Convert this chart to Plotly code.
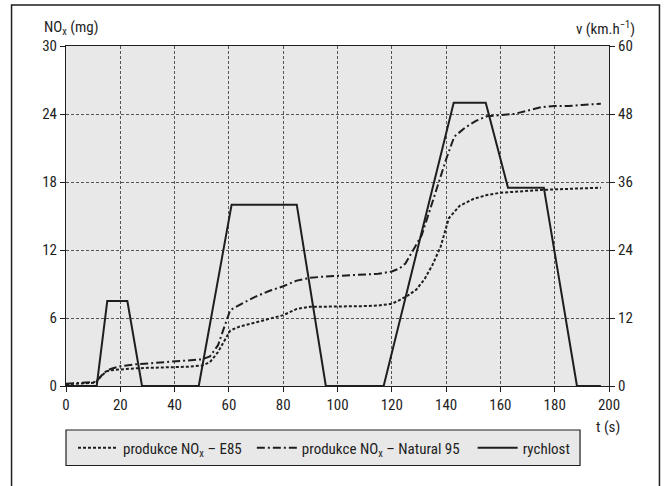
import plotly.graph_objects as go

# ---- data ----
t_speed = [0, 11.3, 15.2, 22.6, 28.0, 48.9, 61.0, 85.0, 95.7, 117.0, 142.8, 154.6, 162.8, 176.0, 188.2, 197]
speed = [0, 0, 15, 15, 0, 0, 32, 32, 0, 0, 50, 50, 35, 35, 0, 0]

t_e85 = [0, 5, 11, 13, 15, 17, 20, 25, 30, 35, 40, 45, 50, 53, 56, 58, 60.5, 64, 70, 75, 80, 85, 90, 95,
         100, 105, 110, 115, 120, 123, 126, 129, 132, 135, 138, 141, 145, 150, 155, 160, 165, 170, 175,
         180, 185, 190, 197]
nox_e85 = [0.15, 0.2, 0.3, 0.9, 1.3, 1.4, 1.47, 1.55, 1.6, 1.63, 1.65, 1.7, 1.8, 2.1, 3.0, 3.9, 4.9, 5.25,
           5.6, 5.9, 6.25, 6.8, 7.0, 7.0, 7.0, 7.0, 7.05, 7.1, 7.25, 7.6, 8.0, 8.5, 9.4, 10.7, 12.3, 14.8,
           15.9, 16.5, 16.85, 17.05, 17.15, 17.25, 17.3, 17.35, 17.4, 17.45, 17.5]

t_n95 = [0, 5, 11, 13, 15, 17, 20, 25, 30, 35, 40, 45, 50, 53, 56, 58, 60.5, 65, 70, 75, 80, 85, 90, 95,
         100, 105, 110, 115, 120, 123, 125, 128, 131, 134, 137, 140, 143, 147, 151, 155, 160, 165, 170,
         175, 180, 185, 190, 197]
nox_n95 = [0.2, 0.25, 0.35, 0.9, 1.35, 1.55, 1.75, 1.9, 2.0, 2.1, 2.2, 2.25, 2.35, 2.6, 3.6, 5.0, 6.7, 7.3,
           7.9, 8.4, 8.8, 9.3, 9.55, 9.65, 9.7, 9.75, 9.8, 9.9, 10.1, 10.4, 10.8, 12.0, 13.3, 15.5, 17.8,
           20.0, 22.0, 22.8, 23.4, 23.8, 23.9, 24.0, 24.3, 24.6, 24.7, 24.7, 24.8, 24.9]

x_ticks = list(range(0, 201, 20))
y_left_ticks = [0, 6, 12, 18, 24, 30]
y_right_ticks = [0, 12, 24, 36, 48, 60]

name_e85 = "produkce NO<sub>x</sub> – E85"
name_n95 = "produkce NO<sub>x</sub> – Natural 95"
name_speed = "rychlost"

FONT = "Roboto Condensed, Liberation Sans, sans-serif"
INK = "#1e1e1e"
W, H = 664, 486
L, R, T, B = 66, 609.5, 46, 386
pw, ph = R - L, B - T


def px(x):
    return (x - L) / pw


def py(y):
    return (B - y) / ph


fig = go.Figure()
fig.add_trace(go.Scatter(x=t_e85, y=nox_e85, mode="lines", name=name_e85,
                         line=dict(color=INK, width=2, dash="3px,2px"), legend="legend"))
fig.add_trace(go.Scatter(x=t_n95, y=nox_n95, mode="lines", name=name_n95,
                         line=dict(color=INK, width=2, dash="8px,3px,2px,3px"), legend="legend2"))
fig.add_trace(go.Scatter(x=t_speed, y=speed, mode="lines", name=name_speed, yaxis="y2",
                         line=dict(color=INK, width=2), legend="legend3"))

grid = dict(showgrid=True, gridcolor="#555555", gridwidth=1, griddash="3px,2px")
axfont = dict(family=FONT, size=15, color=INK)

fig.update_layout(
    width=W, height=H,
    margin=dict(l=L, r=W - R, t=T, b=H - B, autoexpand=False),
    paper_bgcolor="white",
    plot_bgcolor="#e8e8e8",
    font=axfont,
    xaxis=dict(range=[0, 200], tickvals=x_ticks, ticks="outside", ticklen=5, tickcolor=INK,
               showline=True, linecolor=INK, linewidth=1, mirror=True, zeroline=False,
               tickfont=axfont, **grid),
    yaxis=dict(range=[0, 30], tickvals=y_left_ticks, ticks="outside", ticklen=5, tickcolor=INK,
               showline=True, linecolor=INK, linewidth=1, zeroline=False, tickfont=axfont, **grid),
    yaxis2=dict(range=[0, 60], tickvals=y_right_ticks, overlaying="y", side="right",
                ticks="outside", ticklen=5, tickcolor=INK, showline=True, linecolor=INK, linewidth=1,
                showgrid=False, zeroline=False, tickfont=axfont),
    showlegend=True,
)

leg_common = dict(orientation="h", yanchor="middle", y=py(448), xanchor="left",
                  bgcolor="rgba(0,0,0,0)", borderwidth=0, font=axfont, itemwidth=40)
fig.update_layout(
    legend=dict(x=px(73), **leg_common),
    legend2=dict(x=px(252), **leg_common),
    legend3=dict(x=px(473), **leg_common),
)

fig.update_layout(shapes=[
    dict(type="rect", xref="paper", yref="paper", x0=px(11.5), x1=px(660), y0=py(520), y1=py(5),
         line=dict(color=INK, width=1.5), fillcolor="rgba(0,0,0,0)", layer="below"),
    dict(type="rect", xref="paper", yref="paper", x0=px(66), x1=px(580.5), y0=py(465.5), y1=py(430),
         line=dict(color=INK, width=1.2), fillcolor="#e8e8e8", layer="below"),
])

fig.update_layout(annotations=[
    dict(text="NO<sub>x</sub> (mg)", xref="paper", yref="paper", x=px(42), y=py(28),
         xanchor="left", yanchor="middle", showarrow=False, font=axfont),
    dict(text="v (km.h<sup>−1</sup>)", xref="paper", yref="paper", x=px(638), y=py(28),
         xanchor="right", yanchor="middle", showarrow=False, font=axfont),
    dict(text="t (s)", xref="paper", yref="paper", x=px(608), y=py(427),
         xanchor="center", yanchor="middle", showarrow=False, font=axfont),
])

fig.write_html("out.html", config={"displayModeBar": False},
               post_script="document.body.style.margin='0';")
